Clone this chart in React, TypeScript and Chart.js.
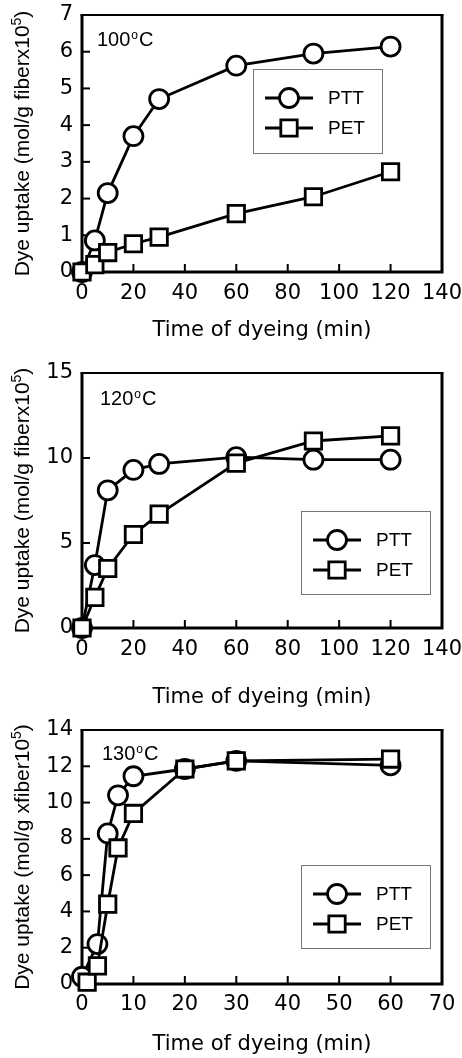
import React, { useEffect, useRef } from 'react';
import { Chart, registerables } from 'chart.js';

Chart.register(...registerables);

// ---------- data ----------
const seriesNames = ['PTT', 'PET'];

const time100 = [0, 5, 10, 20, 30, 60, 90, 120];
const ptt100 = [0, 0.86, 2.15, 3.7, 4.71, 5.62, 5.95, 6.14];
const pet100 = [0, 0.2, 0.53, 0.77, 0.95, 1.59, 2.05, 2.73];

const time120 = [0, 5, 10, 20, 30, 60, 90, 120];
const ptt120 = [0, 3.7, 8.1, 9.3, 9.65, 10.05, 9.9, 9.9];
const pet120 = [0, 1.8, 3.5, 5.5, 6.7, 9.7, 11.0, 11.3];

const time130Ptt = [0, 3, 5, 7, 10, 20, 30, 60];
const ptt130 = [0.4, 2.2, 8.3, 10.4, 11.45, 11.85, 12.3, 12.05];
const time130Pet = [1, 3, 5, 7, 10, 20, 30, 60];
const pet130 = [0.1, 1.0, 4.4, 7.5, 9.4, 11.85, 12.3, 12.4];

const xTicks140 = [0, 20, 40, 60, 80, 100, 120, 140];
const xTicks70 = [0, 10, 20, 30, 40, 50, 60, 70];
const yTicks7 = [0, 1, 2, 3, 4, 5, 6, 7];
const yTicks15 = [0, 5, 10, 15];
const yTicks14 = [0, 2, 4, 6, 8, 10, 12, 14];

const tempLabels = ['100', '120', '130'];
const yTitleMain = ['Dye uptake (mol/g fiberx10', 'Dye uptake (mol/g fiberx10', 'Dye uptake (mol/g xfiber10'];
const yTitleSup = '5';
const xTitle = 'Time of dyeing (min)';

// ---------- helpers ----------
const pts = (xs: number[], ys: number[]) => xs.map((x, i) => ({ x, y: ys[i] }));

const CIRCLE_R = 9.5;
const RECT_R = 11.6;
const LINE_W = 2.8;
const TICK_FONT = { family: '"DejaVu Sans", sans-serif', size: 21 };

function drawMarker(ctx: CanvasRenderingContext2D, style: string, x: number, y: number) {
  ctx.beginPath();
  if (style === 'circle') {
    ctx.arc(x, y, CIRCLE_R, 0, Math.PI * 2);
  } else {
    const s = Math.SQRT1_2 * RECT_R;
    ctx.rect(x - s, y - s, 2 * s, 2 * s);
  }
  ctx.fillStyle = '#fff';
  ctx.fill();
  ctx.lineWidth = LINE_W;
  ctx.strokeStyle = '#000';
  ctx.stroke();
}

const decorPlugin = {
  id: 'decor',
  beforeDatasetsDraw(chart: any) {
    const { ctx, chartArea: ca, scales } = chart;
    ctx.save();
    ctx.strokeStyle = '#000';
    ctx.lineWidth = 2;
    for (const t of scales.x.ticks) {
      const px = scales.x.getPixelForValue(t.value);
      ctx.beginPath();
      ctx.moveTo(px, ca.bottom);
      ctx.lineTo(px, ca.bottom - 8);
      ctx.stroke();
    }
    for (const t of scales.y.ticks) {
      const py = scales.y.getPixelForValue(t.value);
      ctx.beginPath();
      ctx.moveTo(ca.left, py);
      ctx.lineTo(ca.left + 8, py);
      ctx.stroke();
    }
    // frame: thicker left/bottom/right, thinner top
    ctx.lineWidth = 3;
    ctx.beginPath();
    ctx.moveTo(ca.left, ca.top);
    ctx.lineTo(ca.left, ca.bottom);
    ctx.lineTo(ca.right, ca.bottom);
    ctx.lineTo(ca.right, ca.top);
    ctx.stroke();
    ctx.lineWidth = 2;
    ctx.beginPath();
    ctx.moveTo(ca.left - 1.5, ca.top);
    ctx.lineTo(ca.right + 1.5, ca.top);
    ctx.stroke();
    ctx.restore();
  },
  afterDatasetsDraw(chart: any, _a: any, o: any) {
    const { ctx, chartArea: ca } = chart;
    ctx.save();
    // legend box
    const bx = ca.left + o.legendX;
    const by = ca.top + o.legendY;
    ctx.strokeStyle = '#777';
    ctx.lineWidth = 1;
    ctx.strokeRect(Math.round(bx) + 0.5, Math.round(by) + 0.5, 129, o.legendH);
    chart.data.datasets.forEach((ds: any, i: number) => {
      const cy = by + 29 + i * 30;
      ctx.strokeStyle = '#000';
      ctx.lineWidth = LINE_W;
      ctx.beginPath();
      ctx.moveTo(bx + 12, cy);
      ctx.lineTo(bx + 60, cy);
      ctx.stroke();
      drawMarker(ctx, ds.pointStyle, bx + 36, cy);
      ctx.fillStyle = '#000';
      ctx.font = '19px "Liberation Sans", Arial, sans-serif';
      ctx.textBaseline = 'middle';
      ctx.textAlign = 'left';
      ctx.fillText(ds.label, bx + 75, cy + 1);
    });

    // temperature label
    ctx.fillStyle = '#000';
    ctx.textBaseline = 'alphabetic';
    ctx.textAlign = 'left';
    let tx = ca.left + o.tempX;
    const ty = ca.top + o.tempY;
    ctx.font = '20px "Liberation Sans", Arial, sans-serif';
    ctx.fillText(o.temp, tx, ty);
    tx += ctx.measureText(o.temp).width + 1;
    ctx.font = '12px "Liberation Sans", Arial, sans-serif';
    ctx.fillText('o', tx, ty - 7.5);
    tx += ctx.measureText('o').width + 1;
    ctx.font = '20px "Liberation Sans", Arial, sans-serif';
    ctx.fillText('C', tx, ty);

    // y-axis title (rotated)
    const mainFont = '21px "Liberation Sans", Arial, sans-serif';
    const supFont = '14px "Liberation Sans", Arial, sans-serif';
    ctx.font = mainFont;
    const wMain = ctx.measureText(o.yTitle).width;
    const wClose = ctx.measureText(')').width;
    ctx.font = supFont;
    const wSup = ctx.measureText(yTitleSup).width;
    const total = wMain + wSup + wClose;
    ctx.translate(29, (ca.top + ca.bottom) / 2);
    ctx.rotate(-Math.PI / 2);
    let x0 = -total / 2;
    ctx.font = mainFont;
    ctx.fillText(o.yTitle, x0, 0);
    x0 += wMain;
    ctx.font = supFont;
    ctx.fillText(yTitleSup, x0, -8);
    x0 += wSup;
    ctx.font = mainFont;
    ctx.fillText(')', x0, 0);
    ctx.restore();
  },
};

type PanelProps = {
  top: number;
  height: number;
  padTop: number;
  xAxisH: number;
  tickPad: number;
  titlePad: number;
  xMax: number;
  xTicks: number[];
  yMax: number;
  yTicks: number[];
  ptt: { x: number; y: number }[];
  pet: { x: number; y: number }[];
  temp: string;
  yTitle: string;
  legendX: number;
  legendY: number;
  legendH: number;
  tempX: number;
  tempY: number;
};

function Panel(p: PanelProps) {
  const ref = useRef<HTMLCanvasElement | null>(null);
  useEffect(() => {
    if (!ref.current) return;
    const common = {
      borderColor: '#000',
      borderWidth: LINE_W,
      pointBorderWidth: LINE_W,
      pointBackgroundColor: '#fff',
      pointBorderColor: '#000',
      tension: 0,
      clip: false,
    };
    const chart = new Chart(ref.current, {
      type: 'line',
      data: {
        datasets: [
          {
            ...common,
            label: seriesNames[0],
            data: p.ptt,
            pointStyle: 'circle',
            pointRadius: CIRCLE_R,
            order: 1,
          } as any,
          {
            ...common,
            label: seriesNames[1],
            data: p.pet,
            pointStyle: 'rect',
            pointRadius: RECT_R,
            order: 0,
          } as any,
        ],
      },
      options: {
        animation: false,
        responsive: false,
        maintainAspectRatio: false,
        events: [],
        layout: { padding: { top: p.padTop, right: 20, bottom: 0, left: 0 } },
        scales: {
          x: {
            type: 'linear',
            min: 0,
            max: p.xMax,
            afterBuildTicks: (s: any) => {
              s.ticks = p.xTicks.map((v) => ({ value: v }));
            },
            afterFit: (s: any) => {
              s.height = p.xAxisH;
              s.paddingLeft = 0;
              s.paddingRight = 0;
            },
            grid: { display: false, drawTicks: false },
            border: { display: false },
            ticks: {
              color: '#000',
              font: TICK_FONT,
              padding: p.tickPad,
              maxRotation: 0,
              autoSkip: false,
            },
            title: {
              display: true,
              text: xTitle,
              color: '#000',
              font: TICK_FONT,
              padding: { top: 0, bottom: p.titlePad },
            },
          },
          y: {
            type: 'linear',
            min: 0,
            max: p.yMax,
            afterBuildTicks: (s: any) => {
              s.ticks = p.yTicks.map((v) => ({ value: v }));
            },
            afterFit: (s: any) => {
              s.width = 82;
              s.paddingTop = 0;
              s.paddingBottom = 0;
            },
            grid: { display: false, drawTicks: false },
            border: { display: false },
            ticks: {
              color: '#000',
              font: TICK_FONT,
              padding: 9,
              autoSkip: false,
            },
          },
        },
        plugins: {
          legend: { display: false },
          tooltip: { enabled: false },
          decor: {
            temp: p.temp,
            yTitle: p.yTitle,
            legendX: p.legendX,
            legendY: p.legendY,
            legendH: p.legendH,
            tempX: p.tempX,
            tempY: p.tempY,
          },
        } as any,
      },
      plugins: [decorPlugin as any],
    });
    return () => chart.destroy();
  }, []);
  return (
    <canvas
      ref={ref}
      width={462}
      height={p.height}
      style={{ position: 'absolute', left: 0, top: p.top, width: 462, height: p.height }}
    />
  );
}

export default function App() {
  return (
    <div style={{ position: 'absolute', left: 0, top: 0, width: 462, height: 1058, background: '#fff' }}>
      <Panel
        top={0}
        height={345}
        padTop={15}
        xAxisH={73}
        tickPad={9}
        titlePad={1.4}
        xMax={140}
        xTicks={xTicks140}
        yMax={7}
        yTicks={yTicks7}
        ptt={pts(time100, ptt100)}
        pet={pts(time100, pet100)}
        temp={tempLabels[0]}
        yTitle={yTitleMain[0]}
        legendX={171}
        legendY={54}
        legendH={84}
        tempX={15}
        tempY={31}
      />
      <Panel
        top={345}
        height={367}
        padTop={28}
        xAxisH={84}
        tickPad={9}
        titlePad={1.4}
        xMax={140}
        xTicks={xTicks140}
        yMax={15}
        yTicks={yTicks15}
        ptt={pts(time120, ptt120)}
        pet={pts(time120, pet120)}
        temp={tempLabels[1]}
        yTitle={yTitleMain[1]}
        legendX={219}
        legendY={138}
        legendH={83}
        tempX={18}
        tempY={32}
      />
      <Panel
        top={712}
        height={346}
        padTop={18}
        xAxisH={74}
        tickPad={8}
        titlePad={0.4}
        xMax={70}
        xTicks={xTicks70}
        yMax={14}
        yTicks={yTicks14}
        ptt={pts(time130Ptt, ptt130)}
        pet={pts(time130Pet, pet130)}
        temp={tempLabels[2]}
        yTitle={yTitleMain[2]}
        legendX={219}
        legendY={135}
        legendH={83}
        tempX={20}
        tempY={30}
      />
    </div>
  );
}
